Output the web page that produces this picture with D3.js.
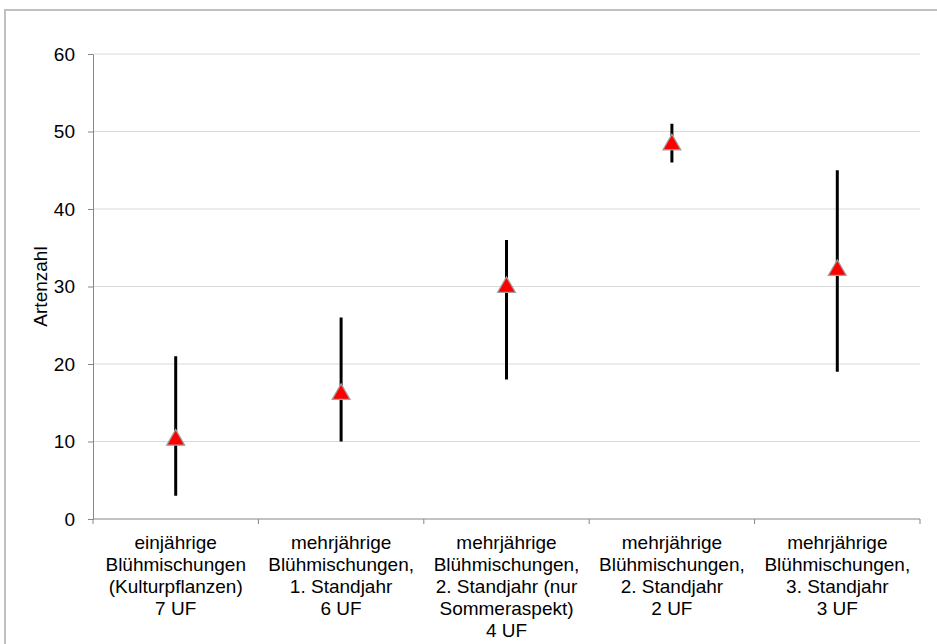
<!DOCTYPE html>
<html>
<head>
<meta charset="utf-8">
<script src="https://cdn.jsdelivr.net/npm/d3@7"></script>
<style>
  body { margin: 0; background: #fff; }
  text { font-family: "Liberation Sans", Arial, sans-serif; fill: #000; }
</style>
</head>
<body>
<div id="chart"></div>
<script>
// categories, one entry per x band (lines of the label)
const categories = [
    ["einjährige", "Blühmischungen", "(Kulturpflanzen)", "7 UF"],
    ["mehrjährige", "Blühmischungen,", "1. Standjahr", "6 UF"],
    ["mehrjährige", "Blühmischungen,", "2. Standjahr (nur", "Sommeraspekt)", "4 UF"],
    ["mehrjährige", "Blühmischungen,", "2. Standjahr", "2 UF"],
    ["mehrjährige", "Blühmischungen,", "3. Standjahr", "3 UF"]
];
const means = [10.2, 16.1, 29.9, 48.3, 32.1];
const mins = [3, 10, 18, 46, 19];
const maxs = [21, 26, 36, 51, 45];
const yTicks = [0, 10, 20, 30, 40, 50, 60];

const W = 937, H = 644;
const margin = { top: 54, right: 17, bottom: 125, left: 93 };
const width = W - margin.left - margin.right,
    height = H - margin.top - margin.bottom;
const fontSize = "19px";

const root = d3.select("#chart")
    .append("svg")
    .attr("width", W)
    .attr("height", H);

// outer chart border (clipped at the right/bottom like the picture)
root.append("rect")
    .attr("x", 5).attr("y", 10)
    .attr("width", W).attr("height", H)
    .attr("fill", "none")
    .attr("stroke", "#c0c0c0")
    .attr("stroke-width", 2);

const svg = root.append("g")
    .attr("transform", `translate(${margin.left}, ${margin.top})`);

const idx = categories.map((d, i) => i);

const x = d3.scaleBand()
    .domain(idx)
    .range([0, width])
    .padding(0);

const y = d3.scaleLinear()
    .domain([0, 60])
    .range([height, 0]);

// gridlines
svg.selectAll("line.grid")
    .data(yTicks.filter(d => d > 0))
    .enter()
    .append("line")
    .attr("class", "grid")
    .attr("x1", 0).attr("x2", width)
    .attr("y1", d => y(d)).attr("y2", d => y(d))
    .attr("stroke", "#d9d9d9")
    .attr("stroke-width", 1);

// y axis
const yAxis = svg.append("g")
    .attr("class", "y axis")
    .call(d3.axisLeft(y).tickValues(yTicks).tickSize(5).tickPadding(13).tickSizeOuter(0));
yAxis.select(".domain").attr("stroke", "#868686");
yAxis.selectAll(".tick line").attr("stroke", "#868686");
yAxis.selectAll(".tick text")
    .style("font-size", fontSize)
    .attr("fill", "#000");

// x axis: ticks at the band boundaries
const xAxisG = svg.append("g")
    .attr("class", "x axis")
    .attr("transform", `translate(0, ${height})`);
xAxisG.append("line")
    .attr("x1", 0).attr("x2", width)
    .attr("stroke", "#868686");
const bounds = idx.map(i => x(i)).concat([x(idx.length - 1) + x.bandwidth()]);
xAxisG.selectAll("line.tk")
    .data(bounds)
    .enter()
    .append("line")
    .attr("class", "tk")
    .attr("x1", d => d).attr("x2", d => d)
    .attr("y1", 0).attr("y2", 5)
    .attr("stroke", "#868686");

// category labels
const labels = xAxisG.selectAll("text.cat")
    .data(categories)
    .enter()
    .append("text")
    .attr("class", "cat")
    .attr("text-anchor", "middle")
    .style("font-size", fontSize)
    .attr("transform", (d, i) => `translate(${x(i) + x.bandwidth() / 2}, 30)`);
labels.selectAll("tspan")
    .data(d => d)
    .enter()
    .append("tspan")
    .attr("x", 0)
    .attr("y", (d, j) => j * 22)
    .text(d => d);

// y label
root.append("text")
    .attr("transform", `translate(47, ${margin.top + height / 2}) rotate(-90)`)
    .attr("text-anchor", "middle")
    .style("font-size", fontSize)
    .text("Artenzahl");

// error bars
svg.selectAll("line.err")
    .data(idx)
    .enter()
    .append("line")
    .attr("class", "err")
    .attr("x1", i => x(i) + x.bandwidth() / 2)
    .attr("x2", i => x(i) + x.bandwidth() / 2)
    .attr("y1", i => y(mins[i]))
    .attr("y2", i => y(maxs[i]))
    .attr("stroke", "#000")
    .attr("stroke-width", 3);

// mean markers (triangles)
const tri = d3.symbol().type(d3.symbolTriangle).size(140);
svg.selectAll("path.mean")
    .data(idx)
    .enter()
    .append("path")
    .attr("class", "mean")
    .attr("d", tri)
    .attr("transform", i => `translate(${x(i) + x.bandwidth() / 2}, ${y(means[i])})`)
    .attr("fill", "#ff0000")
    .attr("stroke", "#a0a0a0")
    .attr("stroke-width", 1.2);
</script>
</body>
</html>
